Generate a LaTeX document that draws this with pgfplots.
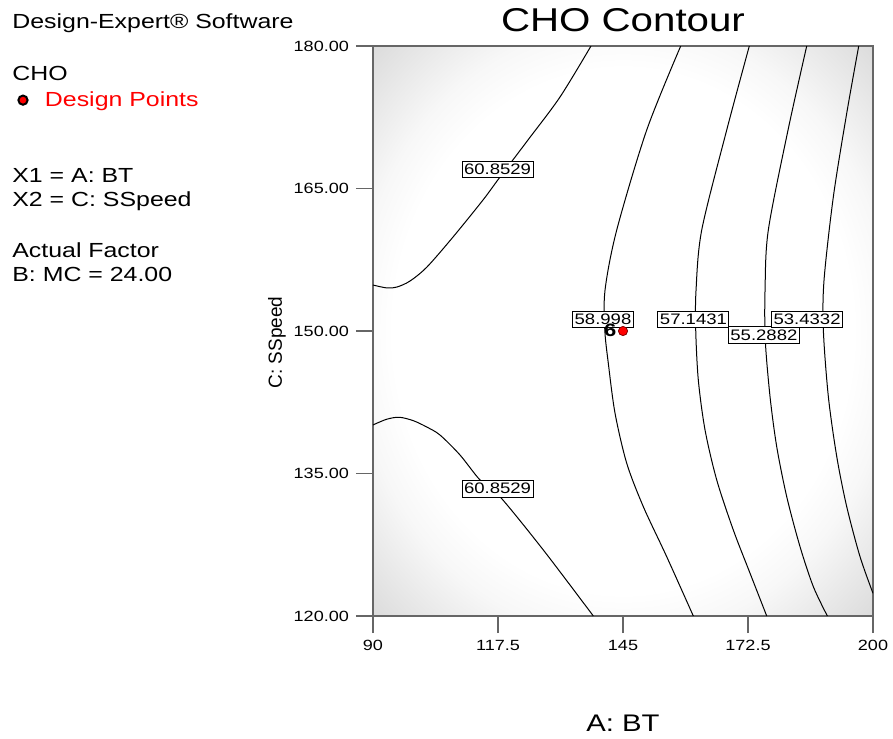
\documentclass[border=0pt]{standalone}
\usepackage{pgfplots}
\pgfplotsset{compat=1.18}
\usepackage{fontspec}
\setmainfont[FakeStretch=1.22]{Liberation Sans}
\newfontfamily\ylabfont{Liberation Sans}
\pgfdeclareradialshading{bgshade}{\pgfpoint{0bp}{0bp}}{color(0bp)=(white); color(23bp)=(white); color(27bp)=(black!3); color(35.4bp)=(black!14); color(50bp)=(black!14)}
\tikzset{lbl/.style={draw=black, fill=white, line width=0.5pt, inner xsep=1pt, inner ysep=1.5pt, font=\fontsize{7.6}{8}\selectfont}}
\pgfplotsset{contour/.style={black, line width=0.5pt, smooth, tension=0.5, forget plot}}
\begin{document}
\begin{tikzpicture}
\useasboundingbox (-186.5pt,-61pt) rectangle (260pt,308pt);
\begin{axis}[
  scale only axis, width=250pt, height=285pt,
  xmin=90, xmax=200, ymin=120, ymax=180,
  xtick={90,117.5,145,172.5,200}, ytick={120,135,150,165,180},
  xtick pos=left, ytick pos=left,
  tick align=outside, major tick length=8.5pt,
  tick style={black!60, line width=0.8pt},
  axis line style={black!60, line width=0.9pt},
  axis background/.style={shade, shading=bgshade},
  /pgf/number format/assume math mode=true,
  ticklabel style={font=\fontsize{7.4}{9}\selectfont},
  yticklabel style={/pgf/number format/.cd, fixed, fixed zerofill, precision=2},
  xticklabel style={/pgf/number format/.cd, fixed, precision=1},
  every axis title shift=0pt,
  title={CHO Contour},
  title style={at={(axis description cs:0.5,1.0246)}, anchor=base, font=\fontsize{16.5}{18}\selectfont, inner sep=0pt},
  xlabel={A: BT},
  xlabel style={at={(axis description cs:0.5,-0.2018)}, anchor=base, font=\fontsize{12}{14}\selectfont, inner sep=0pt},
  ylabel={C: SSpeed},
  ylabel style={at={(axis description cs:-0.192,0.48)}, anchor=center, font=\ylabfont\fontsize{9.5}{11}\selectfont, inner sep=0pt},
  legend image code/.code={\draw[#1, every mark/.append style={draw=black, line width=1pt}] plot coordinates {(0pt,0pt)}; \path[draw=none] (0pt,0pt) -- (9pt,0pt);},
  legend style={at={(axis description cs:-0.71,0.905)}, anchor=west, draw=none, fill=none, inner xsep=0pt, inner ysep=0pt, cells={anchor=west}, font=\fontsize{10.2}{12}\selectfont},
]
% 60.8529 (upper)
\addplot[contour] coordinates {(90,154.84) (93.08,154.53) (95.28,154.63) (98.14,155.26) (101.88,156.74) (107.60,159.89) (114.20,163.79) (117.94,166.21) (124.10,170.11) (131.14,174.63) (137.96,180)};
% 60.8529 (lower)
\addplot[contour] coordinates {(90,140.11) (93.01,140.71) (95.79,140.92) (98.87,140.56) (101.8,139.9) (104.74,139.05) (109.14,136.95) (113.54,134.32) (117.94,132.56) (127.47,126.95) (138.47,120)};
% 58.998
\addplot[contour] coordinates {(157.70,180) (150.22,171.16) (143.62,160.63) (141.05,154.32) (141.0,150.1) (141.77,146.6) (143.25,141.34) (145.82,136.08) (149.47,131.51) (154.62,126.24) (160.47,120)};
% 57.1431
\addplot[contour] coordinates {(172.79,180) (167.82,171.16) (162.32,160.63) (161.07,154.32) (161.0,150.1) (161.57,144.84) (163.05,139.58) (165.62,134.32) (169.27,129.05) (172.95,124.5) (176.62,120)};
% 55.2882
\addplot[contour] coordinates {(185.42,180) (181.31,171.16) (176.97,160.63) (176.25,154.32) (176.30,149.05) (177.35,143.08) (178.82,137.82) (181.02,132.56) (183.95,127.29) (186.88,123.08) (189.96,120)};
% 53.4332
\addplot[contour] coordinates {(196.86,180) (194.22,172.92) (191.28,164.14) (189.23,155.37) (189.08,150.1) (190.18,143.08) (192.03,136.77) (194.22,131.51) (197.15,126.24) (200,122.39)};

\node[lbl] at (axis cs:117.4,167.0) {60.8529};
\node[lbl] at (axis cs:117.4,133.4) {60.8529};
\node[lbl] at (axis cs:140.6,151.2) {58.998};
\node[lbl] at (axis cs:160.5,151.2) {57.1431};
\node[lbl] at (axis cs:176.0,149.6) {55.2882};
\node[lbl] at (axis cs:185.5,151.2) {53.4332};

\addplot[only marks, mark=*, mark size=2.3pt, mark options={fill=red, draw=red!50!black, line width=0.4pt}] coordinates {(145,150)};
\addlegendentry{\textcolor{red}{Design Points}}
\node[font=\bfseries\fontsize{9}{10}\selectfont, inner sep=0pt] at (axis cs:142.2,150.1) {6};
\end{axis}
\begin{scope}[every node/.style={anchor=base west, inner sep=0pt, font=\fontsize{10.2}{12}\selectfont}]
\node at (-180.5pt,293.5pt) {Design-Expert® Software};
\node at (-180.5pt,267.5pt) {CHO};
\node at (-180.5pt,216.5pt) {X1 = A: BT};
\node at (-180.5pt,204.5pt) {X2 = C: SSpeed};
\node at (-180.5pt,179pt) {Actual Factor};
\node at (-180.5pt,167pt) {B: MC = 24.00};
\end{scope}
\end{tikzpicture}
\end{document}
